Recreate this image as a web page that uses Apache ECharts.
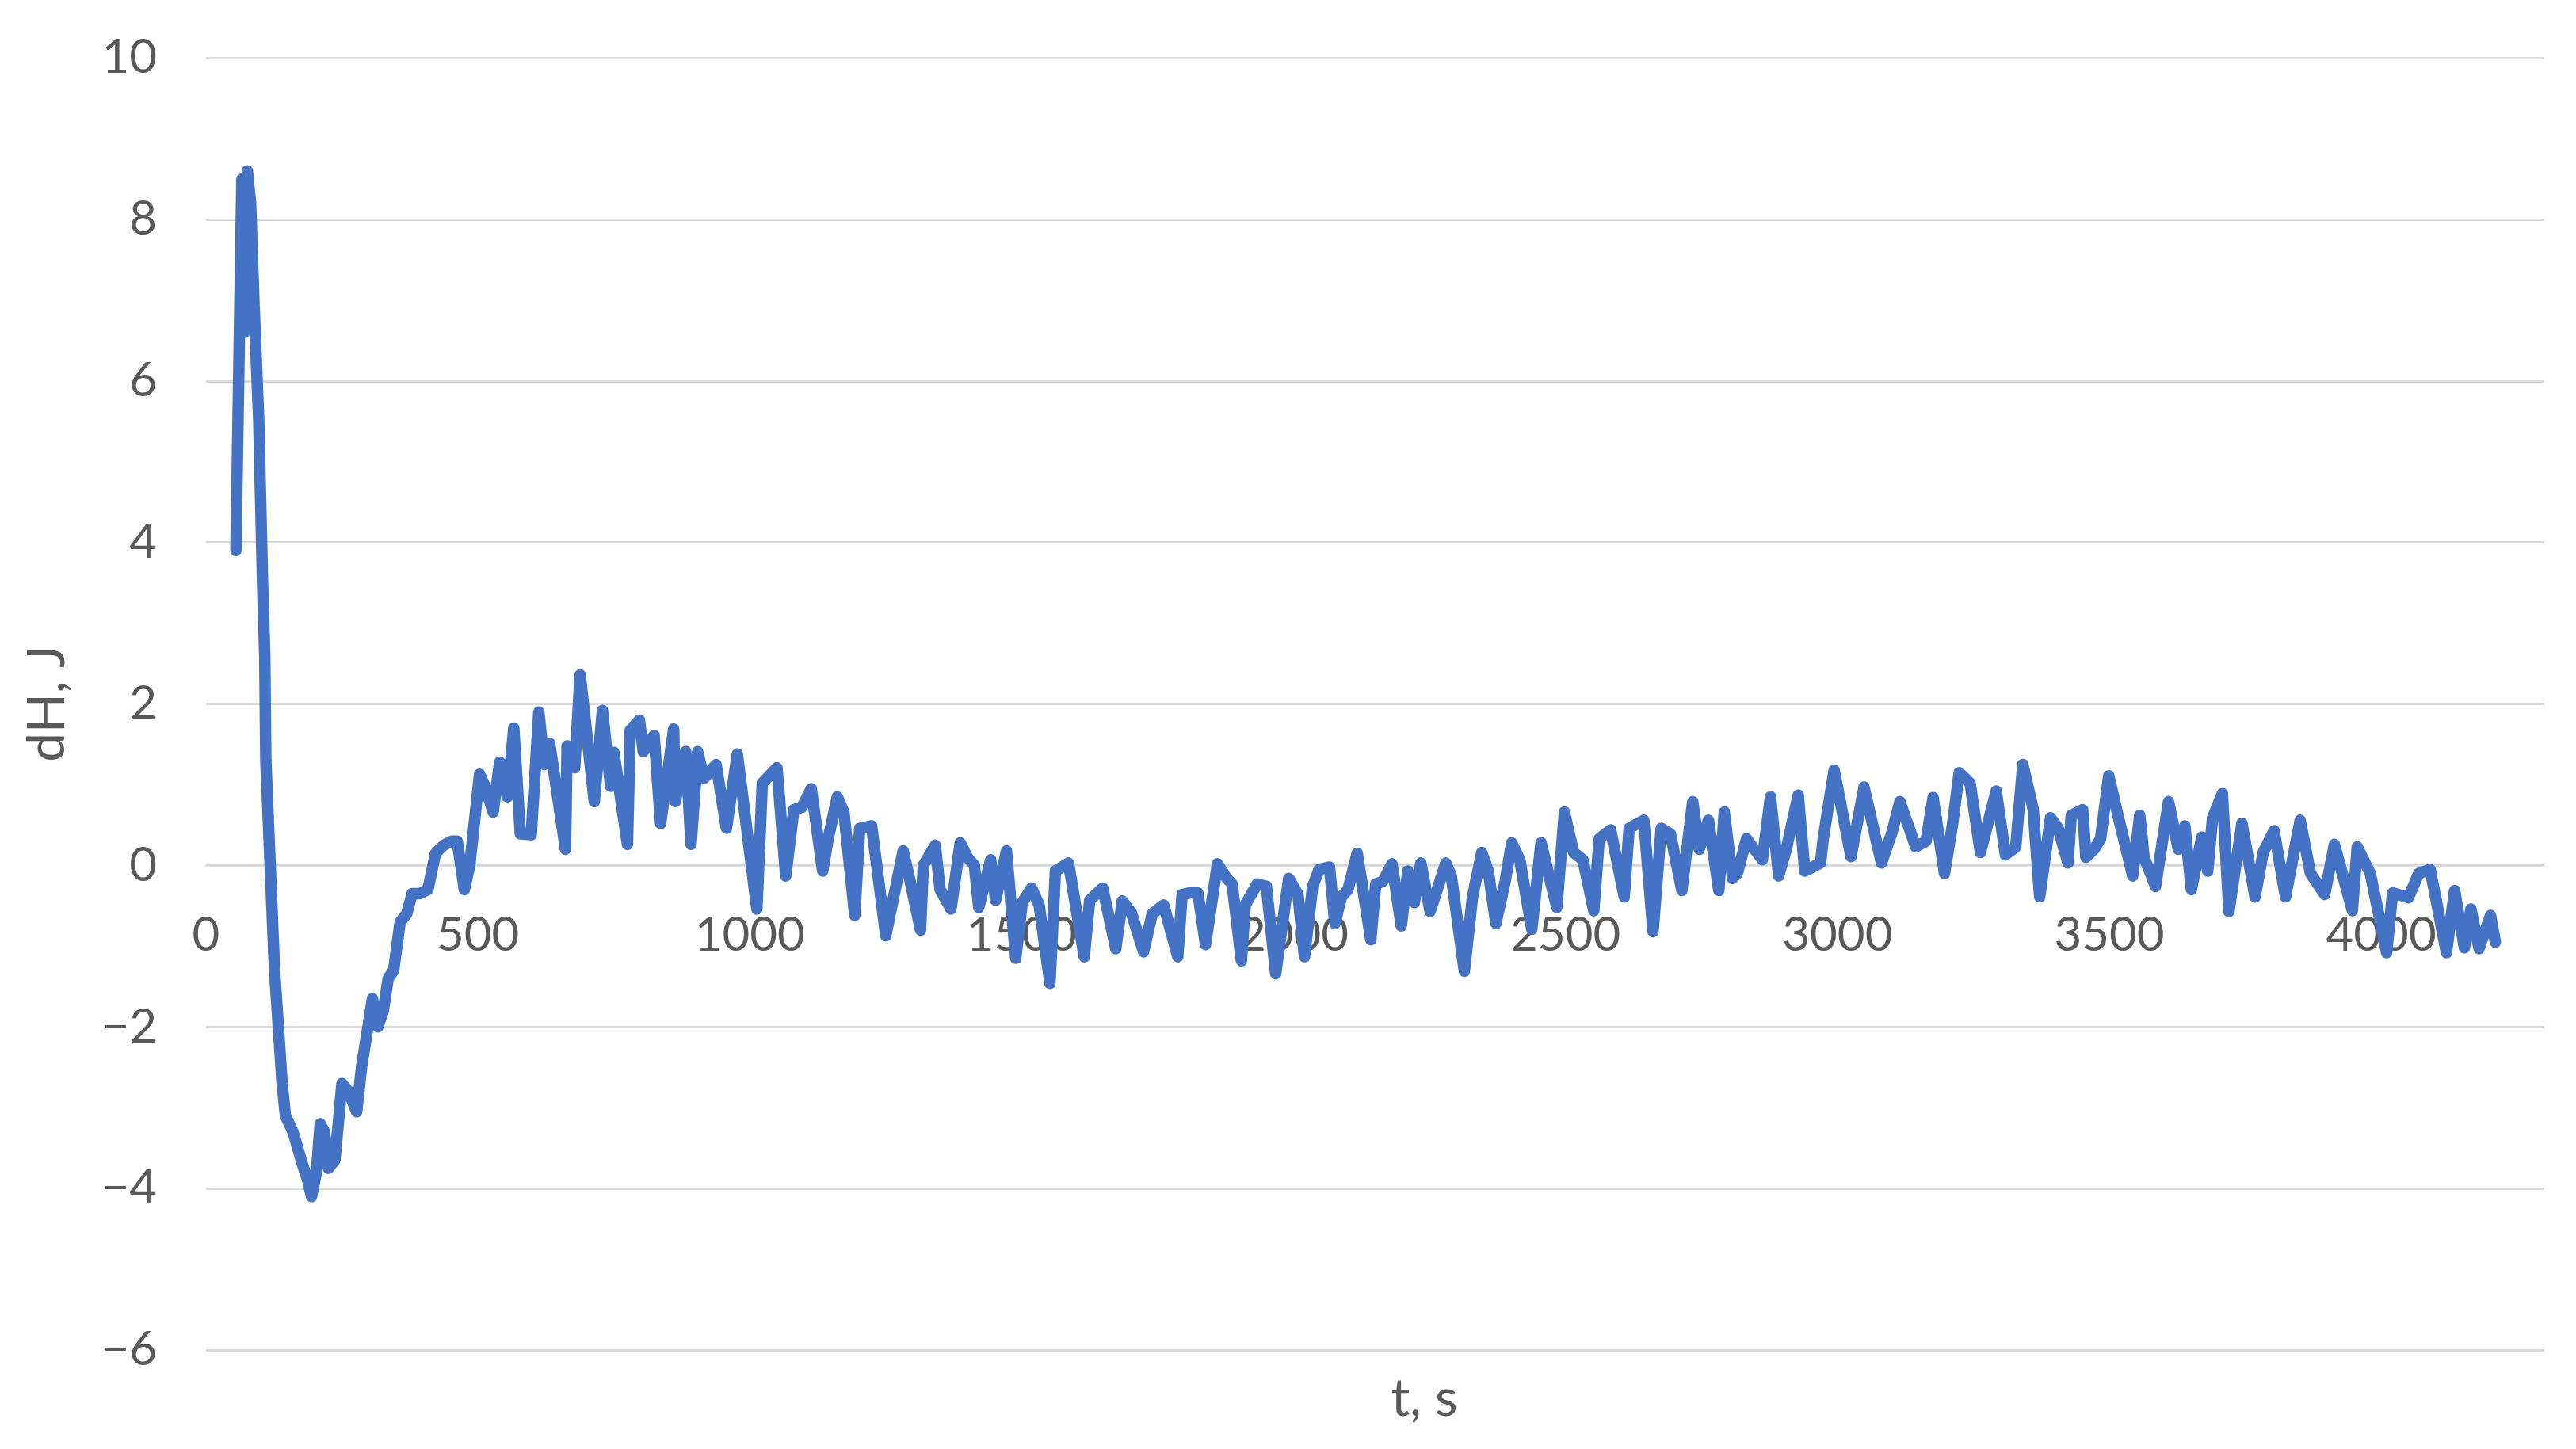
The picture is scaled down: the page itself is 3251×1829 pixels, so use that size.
<!DOCTYPE html>
<html>
<head>
<meta charset="utf-8">
<script src="https://cdn.jsdelivr.net/npm/echarts@6/dist/echarts.min.js"></script>
<style>
html,body{margin:0;padding:0;background:#fff;}
#chart{width:3251px;height:1829px;}
</style>
</head>
<body>
<div id="chart"></div>
<script>
// time, s
var times = [55,60,66,71,76,82,88,97,104,108,110,118,126,133,140,146,160,175,187,194,203,210,218,225,237,250,262,277,286,306,316,326,335,345,357,369,379,393,408,422,437,452,462,475,485,
503,513,528,540,554,566,578,598,612,622,632,661,664,678,688,714,729,744,750,775,780,797,804,824,836,860,863,882,892,904,916,938,957,977,1013,1023,1050,1066,1081,1096,1113,1134,1144,1161,1173,1193,1202,1224,
1250,1282,1295,1314,1319,1341,1350,1370,1387,1400,1413,1421,1443,1452,1472,1489,1501,1518,1532,1552,1562,1586,1615,1625,1649,1673,1685,1702,1724,1740,1761,1787,1795,1809,1824,1838,1860,1877,1887,1904,1911,1933,1950,
1967,1991,2008,2020,2035,2047,2066,2076,2088,2100,2117,2142,2151,2164,2181,2198,2210,2222,2234,2251,2280,2290,2314,2329,2346,2358,2372,2389,2401,2416,2438,2455,2484,2498,2515,2532,2552,2562,2583,2608,2617,2644,2661,
2676,2693,2714,2734,2746,2763,2782,2792,2807,2816,2833,2862,2877,2892,2906,2928,2940,2969,2974,2994,3025,3049,3081,3100,3115,3144,3163,3176,3197,3212,3224,3244,3263,3292,3309,3328,3341,3360,3372,3392,3406,
3424,3430,3451,3457,3472,3484,3499,3517,3543,3556,3564,3585,3609,3627,3639,3651,3670,3681,3690,3708,3720,3744,3768,3783,3803,3824,3851,3870,3896,3914,3947,3956,3980,4010,4021,4050,4069,4090,4120,4135,4153,4165,4180,4201,4210];
// dH, J
var dH = [3.9,6.0,8.5,6.6,8.6,8.2,7.0,5.5,3.5,2.6,1.3,0,-1.3,-2.0,-2.7,-3.1,-3.3,-3.65,-3.9,-4.1,-3.8,-3.2,-3.3,-3.75,-3.65,-2.7,-2.8,-3.05,-2.5,-1.65,-2.0,-1.8,-1.4,-1.3,-0.7,-0.6,-0.35,-0.35,-0.3,0.15,0.25,0.3,0.3,-0.3,0.0,
1.13,0.98,0.66,1.28,0.85,1.70,0.39,0.38,1.90,1.25,1.51,0.2,1.48,1.21,2.36,0.79,1.92,0.98,1.4,0.26,1.67,1.80,1.41,1.61,0.52,1.69,0.79,1.41,0.26,1.41,1.08,1.25,0.46,1.38,-0.54,1.02,1.21,-0.13,0.69,0.72,0.95,-0.07,0.33,0.85,0.66,-0.62,0.46,0.49,
-0.87,0.18,-0.2,-0.80,0,0.25,-0.30,-0.54,0.28,0.1,0,-0.52,0.07,-0.43,0.18,-1.15,-0.46,-0.28,-0.49,-1.46,-0.07,0.03,-1.13,-0.43,-0.28,-1.03,-0.44,-0.59,-1.07,-0.6,-0.49,-1.13,-0.36,-0.34,-0.34,-0.98,0.02,-0.16,-0.23,-1.18,-0.49,-0.23,-0.26,
-1.34,-0.16,-0.36,-1.13,-0.26,-0.05,-0.02,-0.72,-0.39,-0.3,0.15,-0.92,-0.23,-0.20,0.02,-0.75,-0.07,-0.46,0.03,-0.57,0.03,-0.13,-1.31,-0.39,0.16,-0.07,-0.72,-0.20,0.28,0.07,-0.79,0.28,-0.52,0.66,0.16,0.07,-0.56,0.33,0.44,-0.39,0.46,0.56,-0.82,
0.46,0.39,-0.31,0.79,0.20,0.56,-0.31,0.66,-0.16,-0.10,0.33,0.07,0.85,-0.13,0.20,0.87,-0.07,0.03,0.33,1.18,0.11,0.97,0.03,0.4,0.79,0.23,0.30,0.84,-0.10,0.52,1.15,1.02,0.16,0.92,0.13,0.23,1.25,0.7,-0.39,0.59,0.46,
0.03,0.62,0.69,0.10,0.20,0.33,1.11,0.59,-0.13,0.62,0.10,-0.26,0.79,0.20,0.49,-0.30,0.35,-0.07,0.59,0.89,-0.57,0.52,-0.39,0.16,0.43,-0.39,0.56,-0.1,-0.36,0.26,-0.56,0.23,-0.1,-1.08,-0.34,-0.4,-0.10,-0.05,-1.08,-0.31,-1.02,-0.54,-1.03,-0.62,-0.95];

var xTitle = 't, s';
var yTitle = 'dH, J';

var pts = [];
for (var i = 0; i < times.length; i++) pts.push([times[i], dH[i]]);

var FONT = 'Lato';
var chart = echarts.init(document.getElementById('chart'), null, {renderer: 'canvas'});
chart.setOption({
  backgroundColor: '#ffffff',
  animation: false,
  grid: {left: 260, top: 73, width: 2951, height: 1631, containLabel: false, outerBoundsMode: 'none'},
  xAxis: {
    type: 'value', min: 0, max: 4300, interval: 500,
    position: 'bottom', offset: -611,
    name: xTitle, nameLocation: 'middle', nameGap: 640,
    nameTextStyle: {fontFamily: FONT, fontSize: 66, color: '#595959', padding: [0, 0, 0, 124]},
    axisLine: {show: true, onZero: false, lineStyle: {color: '#d9d9d9', width: 3}},
    axisTick: {show: false},
    splitLine: {show: false},
    axisLabel: {fontFamily: FONT, fontSize: 60, color: '#595959', margin: 58, showMaxLabel: false,
      formatter: function (v) { return (v % 500 === 0) ? String(v) : ''; }}
  },
  yAxis: {
    type: 'value', min: -6, max: 10, interval: 2,
    name: yTitle, nameLocation: 'middle', nameGap: 167, nameRotate: 90,
    nameTextStyle: {fontFamily: FONT, fontSize: 66, color: '#595959'},
    axisLine: {show: false},
    axisTick: {show: false},
    splitLine: {show: true, lineStyle: {color: '#d9d9d9', width: 3}},
    axisLabel: {fontFamily: FONT, fontSize: 60, color: '#595959', margin: 62,
      formatter: function (v) { return v < 0 ? '\u2212' + Math.abs(v) : String(v); }}
  },
  series: [{
    type: 'line', data: pts, showSymbol: false, smooth: false,
    lineStyle: {color: '#4472C4', width: 14.5, join: 'round', cap: 'round'},
    z: 3
  }]
});
</script>
</body>
</html>
